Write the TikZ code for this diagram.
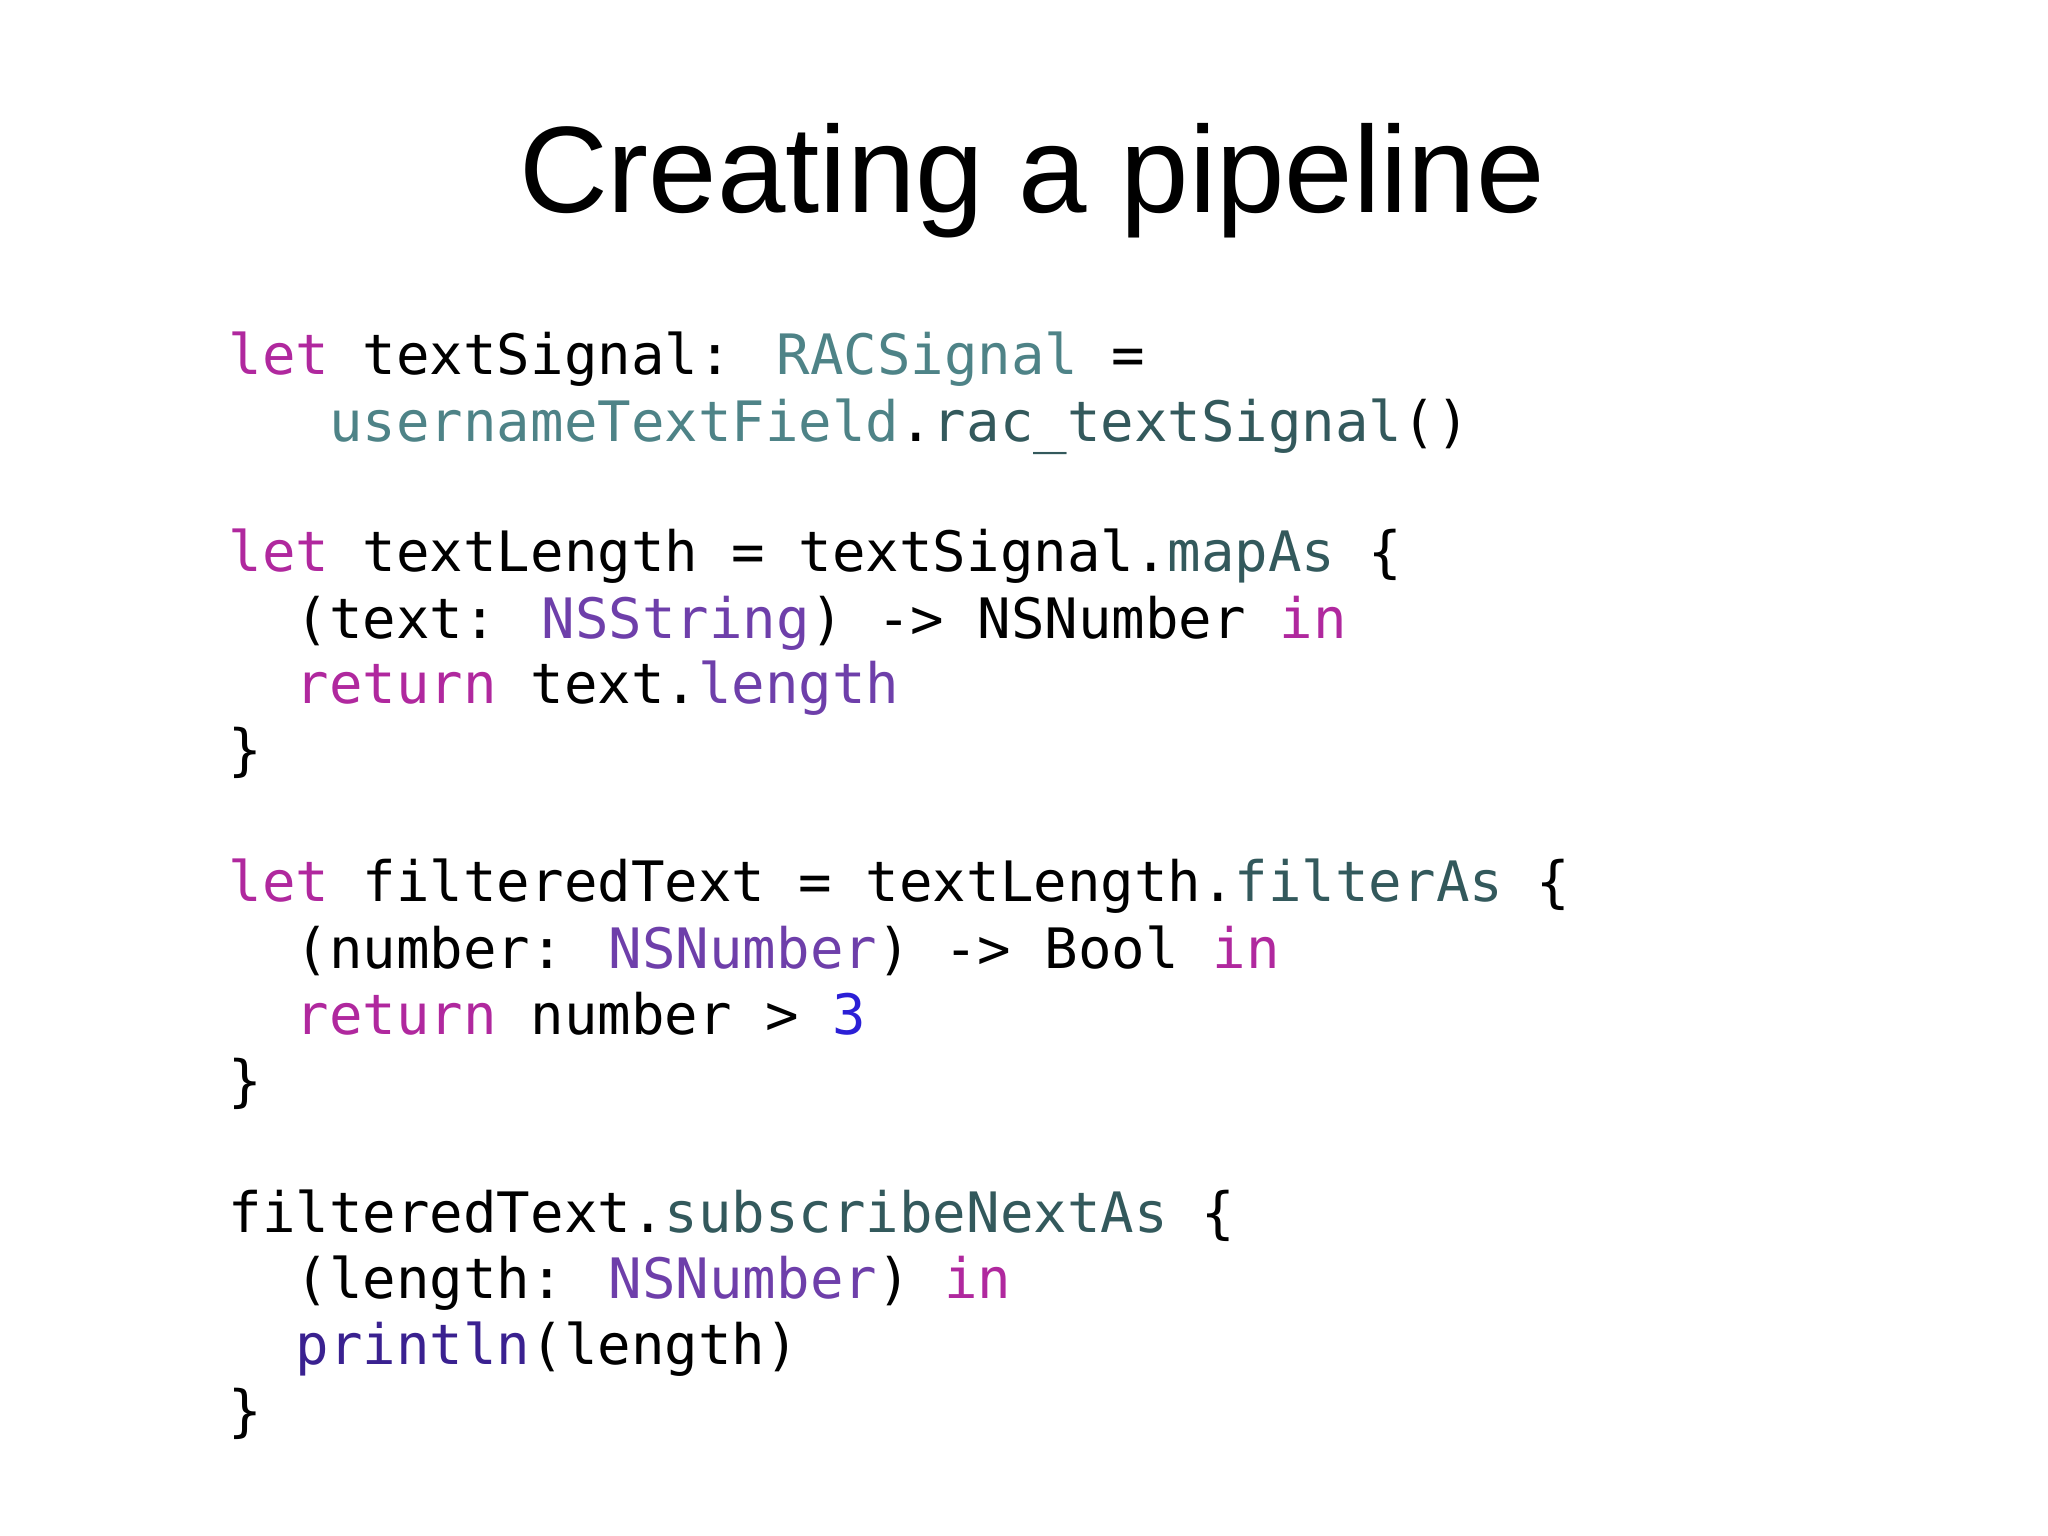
\documentclass[tikz,border=0pt]{standalone}
\usepackage{fontspec}
\setmainfont{Liberation Sans}
\newfontfamily\code{DejaVu Sans Mono}
\definecolor{kw}{HTML}{B0289E}
\definecolor{tl}{HTML}{4E8387}
\definecolor{dt}{HTML}{33595C}
\definecolor{pu}{HTML}{6E3FAA}
\definecolor{nb}{HTML}{2B1FD6}
\definecolor{dp}{HTML}{3A2190}
\newcommand{\cK}[1]{\textcolor{kw}{#1}}
\newcommand{\cT}[1]{\textcolor{tl}{#1}}
\newcommand{\cD}[1]{\textcolor{dt}{#1}}
\newcommand{\cP}[1]{\textcolor{pu}{#1}}
\tikzset{ln/.style={anchor=base west,inner sep=0pt,font=\code\fontsize{15.85pt}{18pt}\selectfont}}
\begin{document}
\begin{tikzpicture}[x=1cm,y=-1cm]
\useasboundingbox (0,0) rectangle (20.48,15.36);
\node[font=\fontsize{35pt}{42pt}\selectfont,anchor=base] (title) at (10.32,2.13) {Creating a pipeline};
\def\lx{2.28}
\node[ln] (l1) at (\lx,3.75) {\cK{let} textSignal: \cT{RACSignal} =};
\node[ln] (l2) at (\lx,4.41) {\ \ \ \cT{usernameTextField}.\cD{rac\_textSignal}()};
\node[ln] (l3) at (\lx,5.72) {\cK{let} textLength = textSignal.\cD{mapAs} \{};
\node[ln] (l4) at (\lx,6.38) {\ \ (text: \cP{NSString}) -> NSNumber \cK{in}};
\node[ln] (l5) at (\lx,7.04) {\ \ \cK{return} text.\cP{length}};
\node[ln] (l6) at (\lx,7.70) {\}};
\node[ln] (l7) at (\lx,9.02) {\cK{let} filteredText = textLength.\cD{filterAs} \{};
\node[ln] (l8) at (\lx,9.68) {\ \ (number: \cP{NSNumber}) -> Bool \cK{in}};
\node[ln] (l9) at (\lx,10.34) {\ \ \cK{return} number > \textcolor{nb}{3}};
\node[ln] (l10) at (\lx,11.00) {\}};
\node[ln] (l11) at (\lx,12.32) {filteredText.\cD{subscribeNextAs} \{};
\node[ln] (l12) at (\lx,12.98) {\ \ (length: \cP{NSNumber}) \cK{in}};
\node[ln] (l13) at (\lx,13.64) {\ \ \textcolor{dp}{println}(length)};
\node[ln] (l14) at (\lx,14.30) {\}};
\end{tikzpicture}
\end{document}
